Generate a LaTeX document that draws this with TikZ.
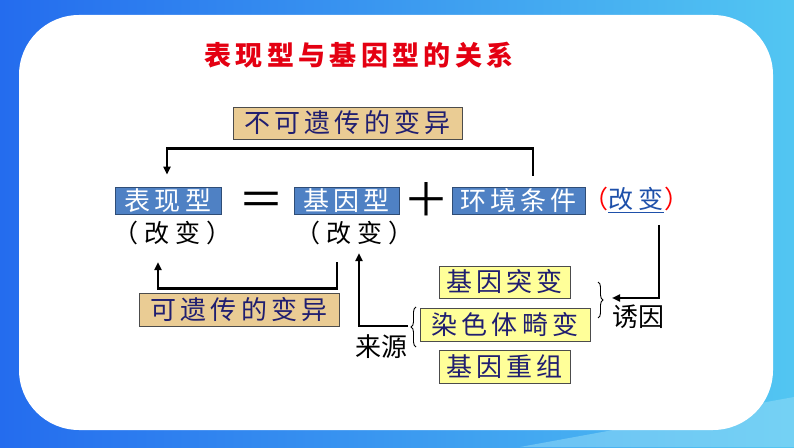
\documentclass[tikz,border=0pt]{standalone}
\usepackage{fontspec}
\setmainfont{Noto Sans CJK SC}
\newfontfamily\cjk[LetterSpace=16]{Noto Sans CJK SC}
\newfontfamily\cjkwide[LetterSpace=24]{Noto Sans CJK SC}
\usepackage{tikz}
\usetikzlibrary{arrows.meta, positioning, calc, decorations.pathreplacing}

\definecolor{framebl}{RGB}{36,108,238}
\definecolor{framecy}{RGB}{82,198,242}
\definecolor{boxblue}{RGB}{79,129,196}
\definecolor{boxtan}{RGB}{234,204,148}
\definecolor{boxyel}{RGB}{255,255,153}
\definecolor{inkblue}{RGB}{32,30,112}
\definecolor{titlered}{RGB}{228,0,18}
\definecolor{chgblue}{RGB}{30,80,170}

\begin{document}
\begin{tikzpicture}[
    x=1pt, y=1pt,
    blk/.style={draw=black!70, line width=0.8pt, inner sep=0pt, font=\cjk\fontsize{26}{26}\selectfont},
    bluebox/.style={blk, draw=boxblue!60!black, fill=boxblue, text=white, minimum height=27pt},
    tanbox/.style={blk, fill=boxtan, text=inkblue, minimum height=32pt},
    yelbox/.style={blk, fill=boxyel, text=inkblue, minimum height=32pt},
    plain/.style={inner sep=0pt, font=\cjkwide\fontsize{25}{25}\selectfont},
    sign/.style={inner sep=0pt, font=\fontsize{46}{46}\selectfont},
    arr/.style={-{Triangle[length=8pt, width=7pt]}, line width=2.4pt},
    brc/.style={decorate, decoration={brace, amplitude=5pt}, line width=0.9pt}
]
\useasboundingbox (0,0) rectangle (794,447);
% frame: blue border round a white rounded card
\shade[left color=framebl, right color=framecy] (0,0) rectangle (794,447);
\fill[framecy!60!white, opacity=0.5] (520,0) -- (794,0) -- (794,50) -- cycle;
\fill[white, rounded corners=60pt] (19,17) rectangle (773,432);

% title
\node[font=\cjk\bfseries\fontsize{27}{27}\selectfont, text=titlered] (title) at (359,392) {表现型与基因型的关系};

% the equation row
\node[tanbox, minimum width=229pt] (notinh) at (347.5,324) {不可遗传的变异};
\node[bluebox, minimum width=106pt] (pheno) at (168,246.5) {表现型};
\node[sign] (eq) at (261.5,243) {＝};
\node[bluebox, minimum width=105pt] (geno) at (346.5,246.5) {基因型};
\node[sign] (plus) at (426.5,247) {＋};
\node[bluebox, minimum width=133pt] (env) at (518.5,246.5) {环境条件};
\node[plain] (envchg) at (636,247) {\textcolor{red}{（}\textcolor{chgblue}{\underline{改变}}\textcolor{red}{）}};
\node[plain] (phenochg) at (172,214) {（改变）};
\node[plain] (genochg) at (354,214) {（改变）};

% heritable variation and its sources
\node[tanbox, minimum width=200pt, minimum height=33pt] (inh) at (239,137.5) {可遗传的变异};
\node[yelbox, minimum width=131pt] (mut) at (504.5,165) {基因突变};
\node[yelbox, minimum width=170pt, minimum height=33pt] (chrom) at (505,122.5) {染色体畸变};
\node[yelbox, minimum width=131pt, minimum height=33pt] (recomb) at (504.5,80.5) {基因重组};
\node[plain, font=\fontsize{26}{26}\selectfont] (source) at (381,100) {来源};
\node[plain, font=\fontsize{26}{26}\selectfont] (induce) at (638,130) {诱因};

% braces
\draw[brc] (416,100) -- (416,140);
\draw[brc] (598,165) -- (598,129);
\coordinate (srctip) at (408,121);
\coordinate (indtip) at (612,149);

% arrows
\draw[arr] ([xshift=14.5pt, yshift=11pt]env.north) |- ([yshift=-9pt]notinh.south) -| ([xshift=-1pt, yshift=12pt]pheno.north);
\draw[arr] ([xshift=-17pt, yshift=-17pt]genochg.south) |- ([yshift=4pt]inh.north) -| ([xshift=-14pt, yshift=-17pt]phenochg.south);
\draw[arr] (srctip) -| ([xshift=5pt, yshift=-8pt]genochg.south);
\draw[arr] ([xshift=23pt, yshift=-12pt]envchg.south) |- (indtip);
\end{tikzpicture}
\end{document}
